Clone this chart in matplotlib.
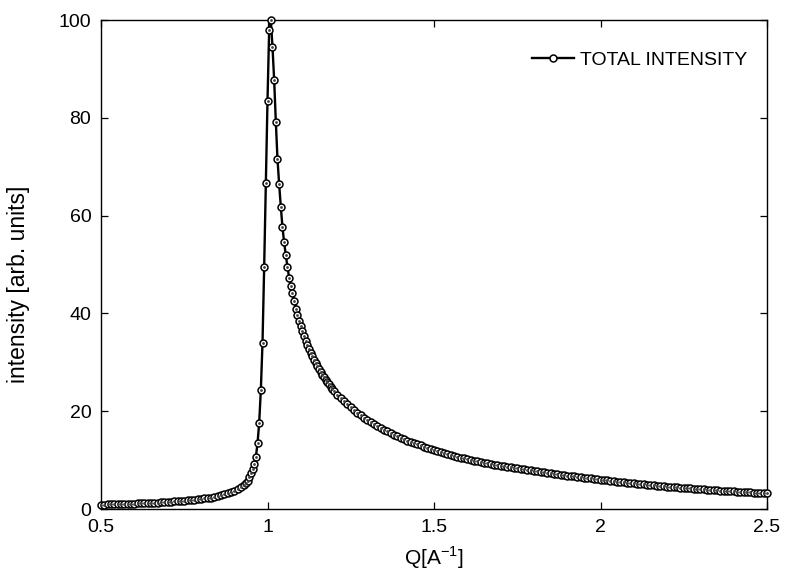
import numpy as np
import matplotlib
matplotlib.use("Agg")
import matplotlib.pyplot as plt

plt.rcParams['font.family'] = ['Liberation Sans', 'DejaVu Sans']
plt.rcParams['mathtext.fontset'] = 'custom'
plt.rcParams['mathtext.rm'] = 'Liberation Sans'

# Q values [1/A] (coarse in the tails, fine around the peak)
q_low = [0.50, 0.51, 0.52, 0.53, 0.54, 0.55, 0.56, 0.57, 0.58, 0.59,
         0.60, 0.61, 0.62, 0.63, 0.64, 0.65, 0.66, 0.67, 0.68, 0.69,
         0.70, 0.71, 0.72, 0.73, 0.74, 0.75, 0.76, 0.77, 0.78, 0.79,
         0.80, 0.81, 0.82, 0.83, 0.84, 0.85, 0.86, 0.87, 0.88, 0.89,
         0.90, 0.91, 0.92, 0.93]
i_low = [0.9, 0.9, 0.95, 0.95, 1.0, 1.0, 1.0, 1.05, 1.05, 1.1,
         1.1, 1.15, 1.15, 1.2, 1.2, 1.25, 1.3, 1.3, 1.35, 1.4,
         1.45, 1.5, 1.55, 1.6, 1.65, 1.7, 1.75, 1.8, 1.9, 1.95,
         2.05, 2.15, 2.25, 2.35, 2.5, 2.65, 2.8, 3.0, 3.2, 3.45,
         3.7, 4.05, 4.45, 4.95]

q_peak = [0.935, 0.94, 0.945, 0.95, 0.955, 0.96, 0.965, 0.97, 0.975, 0.98,
          0.985, 0.99, 0.995, 1.0, 1.005, 1.01, 1.015, 1.02, 1.025, 1.03,
          1.035, 1.04, 1.045, 1.05, 1.055, 1.06, 1.065, 1.07, 1.075, 1.08,
          1.085, 1.09, 1.095, 1.10, 1.105, 1.11, 1.115, 1.12, 1.125, 1.13,
          1.135, 1.14, 1.145, 1.15, 1.155, 1.16, 1.165, 1.17, 1.175, 1.18,
          1.185, 1.19, 1.195, 1.20]
i_peak = [5.3, 5.8, 6.5, 7.3, 8.1, 9.2, 10.6, 13.4, 17.6, 24.3,
          34.0, 49.5, 66.6, 83.5, 98.0, 100.0, 94.5, 87.7, 79.2, 71.5,
          66.4, 61.8, 57.6, 54.5, 51.9, 49.5, 47.3, 45.6, 44.1, 42.5,
          41.0, 39.7, 38.5, 37.4, 36.3, 35.3, 34.4, 33.5, 32.7, 31.9,
          31.2, 30.5, 29.8, 29.2, 28.6, 28.0, 27.5, 26.9, 26.4, 25.9,
          25.5, 25.0, 24.6, 24.2]

q_high = [1.21, 1.22, 1.23, 1.24, 1.25, 1.26, 1.27, 1.28, 1.29, 1.30,
          1.31, 1.32, 1.33, 1.34, 1.35, 1.36, 1.37, 1.38, 1.39, 1.40,
          1.41, 1.42, 1.43, 1.44, 1.45, 1.46, 1.47, 1.48, 1.49, 1.50,
          1.51, 1.52, 1.53, 1.54, 1.55, 1.56, 1.57, 1.58, 1.59, 1.60,
          1.61, 1.62, 1.63, 1.64, 1.65, 1.66, 1.67, 1.68, 1.69, 1.70,
          1.71, 1.72, 1.73, 1.74, 1.75, 1.76, 1.77, 1.78, 1.79, 1.80,
          1.81, 1.82, 1.83, 1.84, 1.85, 1.86, 1.87, 1.88, 1.89, 1.90,
          1.91, 1.92, 1.93, 1.94, 1.95, 1.96, 1.97, 1.98, 1.99, 2.00,
          2.01, 2.02, 2.03, 2.04, 2.05, 2.06, 2.07, 2.08, 2.09, 2.10,
          2.11, 2.12, 2.13, 2.14, 2.15, 2.16, 2.17, 2.18, 2.19, 2.20,
          2.21, 2.22, 2.23, 2.24, 2.25, 2.26, 2.27, 2.28, 2.29, 2.30,
          2.31, 2.32, 2.33, 2.34, 2.35, 2.36, 2.37, 2.38, 2.39, 2.40,
          2.41, 2.42, 2.43, 2.44, 2.45, 2.46, 2.47, 2.48, 2.49, 2.50]
i_high = [23.4, 22.7, 22.0, 21.4, 20.8, 20.2, 19.7, 19.2, 18.7, 18.2,
          17.8, 17.4, 17.0, 16.6, 16.2, 15.9, 15.5, 15.2, 14.9, 14.6,
          14.3, 14.0, 13.7, 13.5, 13.2, 13.0, 12.7, 12.5, 12.3, 12.0,
          11.8, 11.6, 11.4, 11.2, 11.0, 10.9, 10.7, 10.5, 10.4, 10.2,
          10.1, 9.9, 9.8, 9.6, 9.5, 9.4, 9.2, 9.1, 9.0, 8.8,
          8.7, 8.6, 8.5, 8.4, 8.3, 8.2, 8.1, 8.0, 7.9, 7.8,
          7.7, 7.6, 7.5, 7.4, 7.3, 7.2, 7.1, 7.0, 6.95, 6.85,
          6.75, 6.65, 6.6, 6.5, 6.4, 6.35, 6.25, 6.15, 6.1, 6.0,
          5.9, 5.85, 5.75, 5.7, 5.6, 5.55, 5.45, 5.4, 5.3, 5.25,
          5.15, 5.1, 5.05, 4.95, 4.9, 4.85, 4.75, 4.7, 4.65, 4.6,
          4.5, 4.45, 4.4, 4.35, 4.3, 4.25, 4.2, 4.15, 4.1, 4.05,
          4.0, 3.95, 3.9, 3.85, 3.8, 3.75, 3.7, 3.7, 3.65, 3.6,
          3.55, 3.5, 3.5, 3.45, 3.4, 3.35, 3.35, 3.3, 3.25, 3.2]

q = np.array(q_low + q_peak + q_high)
intensity = np.array(i_low + i_peak + i_high)

x_ticks = [0.5, 1, 1.5, 2, 2.5]
x_ticklabels = ['0.5', '1', '1.5', '2', '2.5']
y_ticks = [0, 20, 40, 60, 80, 100]

fig = plt.figure(figsize=(7.86, 5.8), dpi=100)
ax = fig.add_axes([101 / 786, 1 - 509 / 580, 666 / 786, 489 / 580])

ax.plot(q, intensity, '-', color='black', lw=1.7, marker='o', markersize=5.0,
        markerfacecolor='white', markeredgecolor='black', markeredgewidth=1.1,
        label='TOTAL INTENSITY', clip_on=False, zorder=3)
# small dark dot in the middle of each circle
ax.plot(q, intensity, ls='none', marker='o', markersize=1.0, color='#444444',
        clip_on=False, zorder=4)

ax.set_xlim(0.5, 2.5)
ax.set_ylim(0, 100)
ax.set_xticks(x_ticks)
ax.set_xticklabels(x_ticklabels)
ax.set_yticks(y_ticks)
ax.tick_params(direction='in', length=5, width=0.9, labelsize=14,
               top=True, right=True, pad=7)
for s in ax.spines.values():
    s.set_linewidth(1.0)

ax.set_xlabel(r'Q[A$^{\mathregular{-1}}$]', fontsize=15, labelpad=6)
ax.set_ylabel('intensity [arb. units]', fontsize=16.5)
ax.yaxis.set_label_coords(-0.107, 0.46)

ax.legend(loc='upper right', frameon=False, fontsize=14, handlelength=2.2,
          handletextpad=0.3, bbox_to_anchor=(1.0, 0.975), borderaxespad=0.6)

fig.savefig('out.png', dpi=100, facecolor='white')
